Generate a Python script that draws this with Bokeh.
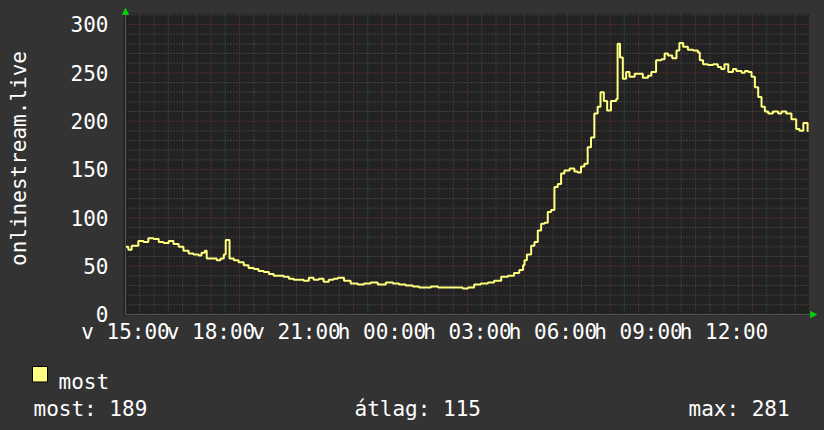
from math import pi
from bokeh.plotting import figure
from bokeh.core.properties import value
from bokeh.models import (Range1d, Label, LabelSet, ColumnDataSource, Arrow,
                          NormalHead, GlobalInlineStyleSheet)
from bokeh.embed import file_html
from bokeh.resources import INLINE

# ---- data (minutes after 15:00) ----
minutes = [0, 6, 13, 27, 38, 48, 59, 70, 80, 91,
           101, 112, 122, 133, 143, 154, 160, 167, 171, 181,
           192, 200, 207, 211, 217, 219, 228, 238, 249, 259,
           270, 280, 291, 302, 312, 323, 333, 344, 354, 365,
           375, 386, 396, 407, 417, 428,
           438, 447, 460, 474, 489, 502, 516, 531, 548, 563,
           576, 590, 605, 618, 632, 643, 658, 675, 689, 700,
           710, 721, 734, 748, 763, 776, 791, 805, 818, 829,
           837,
           840, 845, 854, 861, 868, 875, 882, 889, 896, 903,
           910, 917, 924, 935, 945, 952, 959, 966, 973, 980,
           987, 994, 1000, 1007, 1014, 1022, 1033, 1036, 1041, 1047,
           1054, 1061, 1072, 1082, 1089, 1100, 1107, 1117, 1128, 1135,
           1142, 1151, 1160, 1166, 1174, 1184, 1195, 1205, 1209, 1216,
           1226, 1237, 1247, 1254, 1261, 1269, 1279, 1286, 1297, 1304,
           1311, 1318, 1325, 1332, 1339, 1346, 1353, 1363, 1374, 1381,
           1391, 1402, 1412, 1419, 1427, 1432, 1436]
values = [70, 67, 71, 76, 75, 79, 78, 75, 74, 76,
          73, 70, 66, 63, 62, 61, 64, 66, 58, 58,
          56, 58, 62, 77, 77, 58, 56, 54, 51, 48,
          47, 45, 44, 42, 40, 40, 39, 37, 36, 36,
          35, 38, 36, 37, 34, 36,
          37, 38, 35, 32, 31, 32, 33, 31, 33, 32,
          31, 30, 29, 28, 28, 29, 28, 28, 28, 28,
          27, 28, 31, 32, 33, 35, 39, 40, 43, 46,
          51,
          56, 62, 71, 75, 87, 94, 95, 106, 108, 132,
          135, 146, 149, 151, 148, 147, 153, 156, 173, 183,
          208, 215, 230, 221, 211, 221, 223, 280, 266, 244,
          251, 246, 249, 249, 245, 247, 251, 263, 264, 270,
          268, 265, 273, 281, 277, 274, 273, 271, 263, 259,
          258, 259, 256, 254, 259, 251, 254, 252, 250, 252,
          251, 246, 235, 225, 215, 210, 208, 210, 208, 210,
          208, 202, 192, 190, 198, 198, 189]

y_ticks = [0, 50, 100, 150, 200, 250, 300]
y_tick_labels = ["0", "50", "100", "150", "200", "250", "300"]
x_ticks = [0, 180, 360, 540, 720, 900, 1080, 1260]
x_labels = ["v 15:00", "v 18:00", "v 21:00", "h 00:00",
            "h 03:00", "h 06:00", "h 09:00", "h 12:00"]
y_title = "onlinestream.live"
series_name = "most"
stat_texts = ["most: 189", "átlag: 115", "max: 281"]

X_END = 1440      # end of the graph area (minutes)
Y_TOP = 311.4     # top of the graph area (value units)

# ---- layout (pixels of the 824x430 canvas) ----
W, H = 824, 430
GX0, GX1 = 125, 809       # graph area left/right
GY0, GY1 = 314, 13        # graph area bottom/top (from top of canvas)
SX = (GX1 - GX0) / X_END
SY = (GY0 - GY1) / Y_TOP


def dx(px):
    return (px - GX0) / SX


def dy(py):
    return (GY0 - py) / SY


FONT = "DejaVu Sans Mono"
FS = "21px"
WHITE = "#ffffff"

p = figure(width=W, height=H, output_backend="svg", toolbar_location=None,
           x_range=Range1d(dx(0), dx(W)), y_range=Range1d(dy(H), dy(0)),
           x_axis_location=None, y_axis_location=None,
           min_border=0, min_border_left=0, min_border_right=0,
           min_border_top=0, min_border_bottom=0)
p.background_fill_color = "#333333"
p.border_fill_color = "#333333"
p.outline_line_color = None
p.grid.visible = False
p.stylesheets = [GlobalInlineStyleSheet(css="body{background:#333333;}")]

# graph area
p.quad(left=[dx(123)], right=[X_END], bottom=[dy(315)], top=[Y_TOP],
       fill_color="#222222", line_color=None, level="underlay")

# grid lines derived from tick spacings
vx_minor = [t for t in range(0, X_END + 1, 30) if t % 60]
vx_major = list(range(60, X_END + 1, 60))
hy_minor = [t for t in range(10, int(Y_TOP) + 1, 10) if t % 50]
hy_major = list(range(50, int(Y_TOP) + 1, 50))
MINOR, MAJOR = "#5c5c5c", "#8a3434"
p.segment(x0=vx_minor, x1=vx_minor, y0=[0] * len(vx_minor), y1=[Y_TOP] * len(vx_minor),
          line_color=MINOR, line_dash="1 2", line_width=1, level="underlay")
p.segment(x0=[0] * len(hy_minor), x1=[X_END] * len(hy_minor), y0=hy_minor, y1=hy_minor,
          line_color=MINOR, line_dash="1 2", line_width=1, level="underlay")
p.segment(x0=vx_major, x1=vx_major, y0=[0] * len(vx_major), y1=[Y_TOP] * len(vx_major),
          line_color=MAJOR, line_dash="1 2", line_width=1, level="underlay")
p.segment(x0=[0] * len(hy_major), x1=[X_END] * len(hy_major), y0=hy_major, y1=hy_major,
          line_color=MAJOR, line_dash="1 2", line_width=1, level="underlay")

# axis lines with green arrow heads
p.add_layout(Arrow(x_start=0, y_start=0, x_end=dx(816), y_end=0,
                   line_color="#555555", line_width=1,
                   end=NormalHead(size=6, fill_color="#00d000", line_color="#00d000")))
p.add_layout(Arrow(x_start=0, y_start=0, x_end=0, y_end=dy(8),
                   line_color="#555555", line_width=1,
                   end=NormalHead(size=6, fill_color="#00d000", line_color="#00d000")))

# series
p.step(minutes, values, mode="after", line_width=2, line_color="#ffff80")

# tick labels
ysrc = ColumnDataSource(dict(x=[0] * len(y_ticks), y=y_ticks, text=y_tick_labels))
p.add_layout(LabelSet(x="x", y="y", text="text", source=ysrc, x_offset=-17, y_offset=-7.7,
                      text_align="right", text_baseline="alphabetic",
                      text_font=value(FONT), text_font_size=value(FS),
                      text_color=WHITE))
xsrc = ColumnDataSource(dict(x=x_ticks, y=[0] * len(x_ticks), text=x_labels))
p.add_layout(LabelSet(x="x", y="y", text="text", source=xsrc, y_offset=-24,
                      text_align="center", text_baseline="alphabetic",
                      text_font=value(FONT), text_font_size=value(FS),
                      text_color=WHITE))

# vertical title
p.add_layout(Label(x=dx(18.5), y=dy(158), text=y_title, angle=pi / 2,
                   text_align="center", text_baseline="alphabetic",
                   text_font=FONT, text_font_size=FS, text_color=WHITE))

# legend: swatch + name
p.quad(left=[dx(32)], right=[dx(47)], top=[dy(366)], bottom=[dy(381.5)],
       fill_color="#ffff80", line_color="#000000", line_width=1)
p.add_layout(Label(x=dx(58), y=dy(381), text=series_name, text_align="left",
                   text_baseline="alphabetic", text_font=FONT, text_font_size=FS,
                   text_color=WHITE))

# statistics
for xs, txt in zip([33, 354, 688], stat_texts):
    p.add_layout(Label(x=dx(xs), y=dy(408), text=txt, text_align="left",
                       text_baseline="alphabetic", text_font=FONT,
                       text_font_size=FS, text_color=WHITE))

open("out.html", "w").write(file_html(p, INLINE))
